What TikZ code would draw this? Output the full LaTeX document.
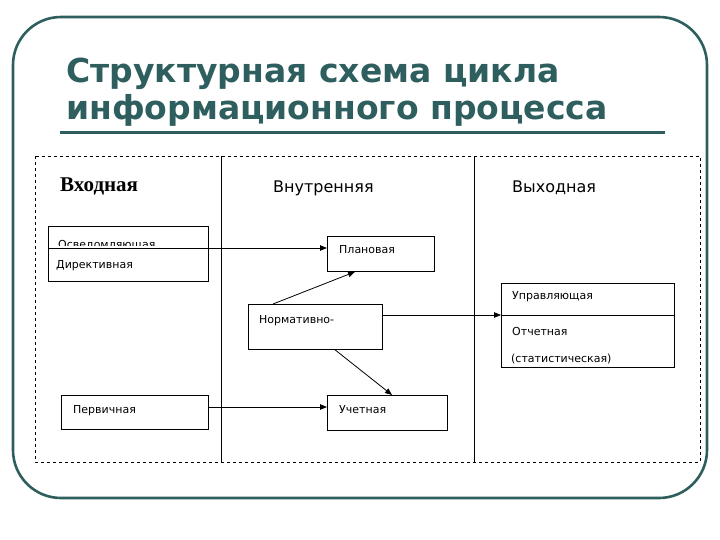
\documentclass[tikz,border=0pt]{standalone}
\usepackage{fontspec}
\setmainfont{Liberation Sans}
\newfontfamily\ttlfont{DejaVu Sans}
\newfontfamily\smfont{DejaVu Sans}
\newfontfamily\hdserif{Liberation Serif}
\usetikzlibrary{arrows.meta,calc}
\definecolor{teal1}{RGB}{46,94,94}
\tikzset{
  frame/.style={draw=teal1, line width=2.6pt, rounded corners=48pt},
  box/.style={draw, line width=0.8pt, inner sep=0pt, anchor=north west},
  sm/.style={font=\smfont\fontsize{11}{13}\selectfont, anchor=base west, inner sep=0pt},
  hd/.style={font=\smfont\fontsize{16}{18}\selectfont, anchor=base west, inner sep=0pt},
  ttl/.style={font=\ttlfont\bfseries\fontsize{33}{36}\selectfont, text=teal1, anchor=base west, inner sep=0pt},
  arr/.style={-{Triangle[length=7pt,width=5.5pt]}, line width=0.8pt},
  ln/.style={line width=0.8pt}
}
\begin{document}
\begin{tikzpicture}[x=1pt,y=-1pt]
\useasboundingbox (0,0) rectangle (720,540);
% frame
\draw[frame] (13,17) rectangle (707,498);
% title
\node[ttl] (t1) at (66,83) {Структурная схема цикла};
\node[ttl] (t2) at (66,120) {информационного процесса};
\draw[teal1, line width=3pt] (60,133) -- (665,133);
% dashed area
\draw[dashed, line width=0.6pt] (35,156) rectangle (700,462);
\draw[ln] (221,156) -- (221,462);
\draw[ln] (474,156) -- (474,462);
% headers
\node[font=\hdserif\bfseries\fontsize{21}{23}\selectfont, anchor=base west, inner sep=0pt] (h1) at (60,192) {Входная};
\node[hd] (h2) at (273,193) {Внутренняя};
\node[hd] (h3) at (512,193) {Выходная};
% input box
\node[box, minimum width=160pt, minimum height=55pt] (in1) at (48,226) {};
\begin{scope}
\clip (49,227) rectangle (207,245);
\node[sm] (osv) at (58,248) {Осведомляющая};
\end{scope}
\coordinate (dv) at (0,248);
\draw[ln] (in1.west |- dv) -- (in1.east |- dv);
\node[sm] (dir) at (56,268) {Директивная};
% plan
\node[box, minimum width=107pt, minimum height=35pt] (plan) at (327,236) {};
\node[sm] (plant) at (339,254) {Плановая};
% norm
\node[box, minimum width=134pt, minimum height=45pt] (norm) at (248,304) {};
\node[sm] (normt) at (259,323) {Нормативно-};
% output
\node[box, minimum width=173pt, minimum height=84pt] (out) at (501,283) {};
\coordinate (dv2) at (0,315);
\draw[ln] (out.west |- dv2) -- (out.east |- dv2);
\node[sm] (upr) at (512,299) {Управляющая};
\node[sm] (otc) at (512,335) {Отчетная};
\node[sm] (stat) at (511,362) {(статистическая)};
% primary
\node[box, minimum width=147pt, minimum height=34pt] (perv) at (61,395) {};
\node[sm] (pervt) at (73,413) {Первичная};
% accounting
\node[box, minimum width=120pt, minimum height=35pt] (uch) at (327,395) {};
\node[sm] (ucht) at (339,413) {Учетная};
% connectors
\draw[arr] (in1.east |- dv) -- (plan.west |- dv);
\coordinate (nA) at (273,0);
\coordinate (pA) at (355,0);
\draw[arr] (norm.north -| nA) -- (plan.south -| pA);
\coordinate (nB) at (335,0);
\coordinate (uB) at (392,0);
\draw[arr] (norm.south -| nB) -- (uch.north -| uB);
\draw[arr] (norm.east |- dv2) -- (out.west |- dv2);
\coordinate (dv3) at (0,407);
\draw[arr] (perv.east |- dv3) -- (uch.west |- dv3);
\end{tikzpicture}
\end{document}
